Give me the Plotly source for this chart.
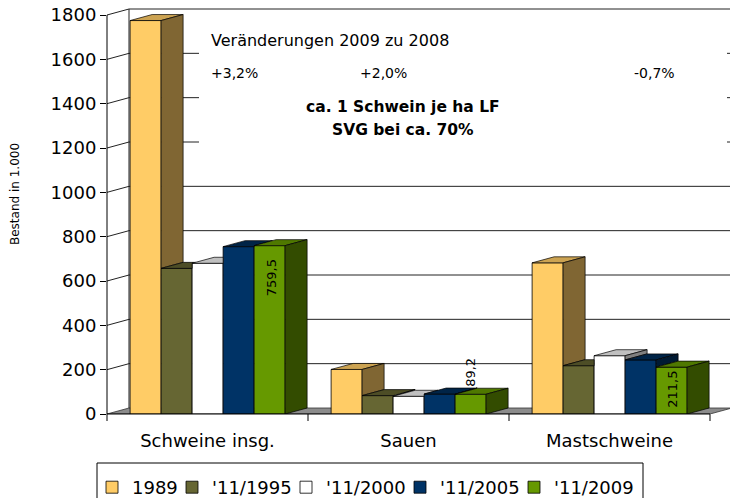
import plotly.graph_objects as go

# ---------------- data ----------------
categories = ["Schweine insg.", "Sauen", "Mastschweine"]
series_names = ["1989", "'11/1995", "'11/2000", "'11/2005", "'11/2009"]
values_1989 = [1775, 201, 682]
values_1995 = [657, 83, 218]
values_2000 = [680, 80, 263]
values_2005 = [755, 90, 244]
values_2009 = [759.5, 89.2, 211.5]
y_ticks = [0, 200, 400, 600, 800, 1000, 1200, 1400, 1600, 1800]
change_texts = ["+3,2%", "+2,0%", "-0,7%"]
change_title = "Veränderungen 2009 zu 2008"
note_lines = ["ca. 1 Schwein je ha LF", "SVG bei ca. 70%"]
y_title = "Bestand in 1.000"

series_values = [values_1989, values_1995, values_2000, values_2005, values_2009]

# ---------------- style ----------------
front_colors = ["#FFCC66", "#666633", "#FFFFFF", "#003366", "#669900"]
top_colors = ["#CCA352", "#4D4D26", "#C0C0C0", "#002447", "#4F7800"]
side_colors = ["#806633", "#333319", "#808080", "#001A33", "#334C00"]
FONT = "DejaVu Sans"

W, H = 730, 498
ML, MT, MB, MR = 107, 8, 84, 0
PW = W - ML - MR
PH = H - MT - MB
CAT_PX = 201.0
Y_PX = 399.0 / 1800.0
x_range = [-0.5, -0.5 + PW / CAT_PX]
y_range = [0, PH / Y_PX]
DX = 22.0 / CAT_PX
DY = 6.0 / Y_PX
BAR_W = 31.0 / CAT_PX
GROUP_START = -0.385


def xp(px):
    return (px - ML) / PW


def yp(py):
    return (H - MB - py) / PH


def px_to_x(px):
    return x_range[0] + (px - ML) / CAT_PX


def py_to_y(py):
    return (H - MB - py) / Y_PX


def data_x_to_paper(x):
    return (x - x_range[0]) / (x_range[1] - x_range[0])


def data_y_to_paper(y):
    return (y - y_range[0]) / (y_range[1] - y_range[0])


fig = go.Figure()

# front faces as bars
legend_widths = [35, 69, 69, 69, 90]
for i, (name, vals) in enumerate(zip(series_names, series_values)):
    fig.add_trace(go.Bar(
        x=list(range(len(categories))), y=vals, name=name,
        offset=GROUP_START + i * BAR_W, width=BAR_W,
        marker=dict(color=front_colors[i], line=dict(color="#000000", width=0.8)),
        legendwidth=legend_widths[i],
        hoverinfo="name+y",
    ))

# 3D top / side faces computed from the data
for i, vals in enumerate(series_values):
    tx, ty, sx, sy = [], [], [], []
    for c in range(len(categories)):
        v = vals[c]
        x0 = c + GROUP_START + i * BAR_W
        x1 = x0 + BAR_W
        nxt = series_values[i + 1][c] if i + 1 < len(series_values) else None
        if nxt is None or nxt <= v:
            poly = [(x0, v), (x1, v), (x1 + DX, v + DY), (x0 + DX, v + DY)]
        elif nxt >= v + DY:
            poly = [(x0, v), (x1, v), (x1, v + DY), (x0 + DX, v + DY)]
        else:
            xc = x1 + DX * (v + DY - nxt) / DY
            poly = [(x0, v), (x1, v), (x1, nxt), (xc, v + DY), (x0 + DX, v + DY)]
        poly.append(poly[0])
        tx += [p[0] for p in poly] + [None]
        ty += [p[1] for p in poly] + [None]
        side = None
        if nxt is None:
            side = [(x1, 0), (x1 + DX, DY), (x1 + DX, v + DY), (x1, v)]
        elif v > nxt:
            side = [(x1, nxt), (x1 + DX, nxt + DY), (x1 + DX, v + DY), (x1, v)]
        if side:
            side.append(side[0])
            sx += [p[0] for p in side] + [None]
            sy += [p[1] for p in side] + [None]
    fig.add_trace(go.Scatter(x=tx, y=ty, mode="lines", fill="toself",
                             fillcolor=top_colors[i], line=dict(color="#000000", width=0.7),
                             showlegend=False, hoverinfo="skip"))
    if sx:
        fig.add_trace(go.Scatter(x=sx, y=sy, mode="lines", fill="toself",
                                 fillcolor=side_colors[i], line=dict(color="#000000", width=0.7),
                                 showlegend=False, hoverinfo="skip"))

# ---------------- walls, floor, gridlines ----------------
shapes = []
n_cat = len(categories)
floor_path = "M {a},{b} L {c},{b} L {d},{e} L {f},{e} Z".format(
    a=-0.5, b=0, c=n_cat - 0.5, d=n_cat - 0.5 + DX, e=DY, f=-0.5 + DX)
shapes.append(dict(type="path", path=floor_path, xref="x", yref="y",
                   fillcolor="#8C8C8C", line=dict(color="#333333", width=0.8), layer="below"))
for v in y_ticks[1:]:
    shapes.append(dict(type="line", xref="x", yref="y", x0=-0.5 + DX, x1=x_range[1],
                       y0=v + DY, y1=v + DY, line=dict(color="#222222", width=1), layer="below"))
    shapes.append(dict(type="line", xref="x", yref="y", x0=-0.5, x1=-0.5 + DX,
                       y0=v, y1=v + DY, line=dict(color="#222222", width=1), layer="below"))
shapes.append(dict(type="line", xref="x", yref="y", x0=-0.5 + DX, x1=-0.5 + DX,
                   y0=DY, y1=y_ticks[-1] + DY, line=dict(color="#222222", width=1), layer="below"))
# white text panel covering part of the back wall (drawn after the gridlines)
shapes.append(dict(type="rect", xref="x", yref="y", x0=px_to_x(199), x1=px_to_x(727),
                   y0=py_to_y(184), y1=py_to_y(12), fillcolor="#FFFFFF", line=dict(width=0),
                   layer="below"))
# axis lines and category separator ticks
shapes.append(dict(type="line", xref="paper", yref="paper", x0=0, x1=0,
                   y0=0, y1=data_y_to_paper(y_ticks[-1]), line=dict(color="#000000", width=1)))
shapes.append(dict(type="line", xref="paper", yref="paper", x0=0, x1=data_x_to_paper(n_cat - 0.5),
                   y0=0, y1=0, line=dict(color="#000000", width=1)))
for k in range(n_cat + 1):
    xx = data_x_to_paper(k - 0.5)
    shapes.append(dict(type="line", xref="paper", yref="paper", x0=xx, x1=xx,
                       y0=0, y1=-7 / PH, line=dict(color="#000000", width=1)))
# legend frame
shapes.append(dict(type="rect", xref="paper", yref="paper", x0=xp(97), x1=xp(643),
                   y0=yp(512), y1=yp(463), line=dict(color="#000000", width=1),
                   fillcolor="rgba(0,0,0,0)"))

# ---------------- annotations ----------------
ann = []
ann.append(dict(text=change_title, xref="paper", yref="paper", x=xp(209), y=yp(40),
                xanchor="left", yanchor="middle", showarrow=False,
                font=dict(family=FONT, size=16, color="#000000")))
change_x_px = [209, 358, 632]
for t, px in zip(change_texts, change_x_px):
    ann.append(dict(text=t, xref="paper", yref="paper", x=xp(px), y=yp(73),
                    xanchor="left", yanchor="middle", showarrow=False,
                    font=dict(family=FONT, size=14, color="#000000")))
for t, py in zip(note_lines, [107, 130]):
    ann.append(dict(text="<b>" + t + "</b>", xref="paper", yref="paper", x=xp(402.5), y=yp(py),
                    xanchor="center", yanchor="middle", showarrow=False,
                    font=dict(family=FONT, size=15.5, color="#000000")))
ann.append(dict(text=y_title, xref="paper", yref="paper", x=xp(15), y=yp(194),
                xanchor="center", yanchor="middle", textangle=-90, showarrow=False,
                font=dict(family=FONT, size=12, color="#000000")))
# data labels for the 2009 series
label_yshift = [-32, 22, -22]
label_xshift = [2, 0, 0]
for c, v in enumerate(values_2009):
    xc = c + GROUP_START + 4 * BAR_W + BAR_W / 2
    ann.append(dict(text=("%.1f" % v).replace(".", ","), x=xc, y=v, xref="x", yref="y",
                    xanchor="center", yanchor="middle", yshift=label_yshift[c],
                    xshift=label_xshift[c], textangle=-90, showarrow=False,
                    font=dict(family=FONT, size=13, color="#000000")))

fig.update_layout(
    width=W, height=H,
    margin=dict(l=ML, r=MR, t=MT, b=MB, autoexpand=False),
    paper_bgcolor="#FFFFFF", plot_bgcolor="#FFFFFF",
    barmode="overlay",
    font=dict(family=FONT, size=18, color="#000000"),
    xaxis=dict(range=x_range, tickmode="array", tickvals=list(range(n_cat)), ticktext=categories,
               ticks="", showgrid=False, zeroline=False, showline=False,
               ticklabelstandoff=14, tickfont=dict(family=FONT, size=18, color="#000000")),
    yaxis=dict(range=y_range, tickmode="array", tickvals=y_ticks, ticks="outside", ticklen=6,
               tickcolor="#000000", showgrid=False, zeroline=False, showline=False,
               tickfont=dict(family=FONT, size=18, color="#000000")),
    legend=dict(orientation="h", x=xp(92), y=yp(469), xanchor="left", yanchor="top",
                bgcolor="rgba(0,0,0,0)", borderwidth=0, itemwidth=30,
                font=dict(family=FONT, size=18, color="#000000"), traceorder="normal"),
    shapes=shapes, annotations=ann,
    showlegend=True,
)

fig.write_html("out.html", config={"displayModeBar": False},
               post_script="document.body.style.margin='0';document.body.style.overflow='hidden';")
